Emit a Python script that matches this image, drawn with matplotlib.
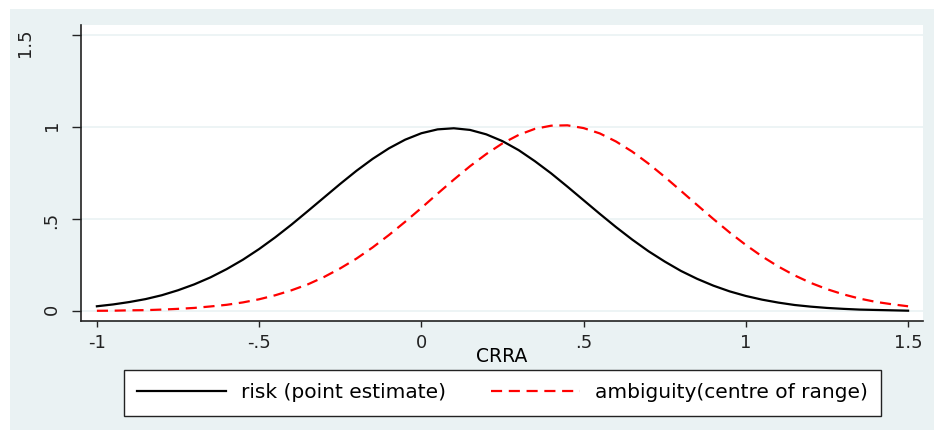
import matplotlib
matplotlib.use('Agg')
import matplotlib.pyplot as plt
import matplotlib.transforms as mtransforms
from matplotlib.patches import Rectangle

# CRRA grid and the two densities read at 0.05 steps
crra = [-1.00, -0.95, -0.90, -0.85, -0.80, -0.75, -0.70, -0.65, -0.60, -0.55,
        -0.50, -0.45, -0.40, -0.35, -0.30, -0.25, -0.20, -0.15, -0.10, -0.05,
        0.00, 0.05, 0.10, 0.15, 0.20, 0.25, 0.30, 0.35, 0.40, 0.45,
        0.50, 0.55, 0.60, 0.65, 0.70, 0.75, 0.80, 0.85, 0.90, 0.95,
        1.00, 1.05, 1.10, 1.15, 1.20, 1.25, 1.30, 1.35, 1.40, 1.45, 1.50]

risk = [0.026, 0.036, 0.049, 0.065, 0.086, 0.113, 0.145, 0.183, 0.228, 0.279,
        0.337, 0.401, 0.470, 0.543, 0.617, 0.691, 0.762, 0.827, 0.884, 0.931,
        0.966, 0.987, 0.993, 0.984, 0.960, 0.923, 0.874, 0.814, 0.748, 0.676,
        0.602, 0.528, 0.456, 0.388, 0.325, 0.269, 0.218, 0.175, 0.138, 0.107,
        0.082, 0.062, 0.046, 0.033, 0.024, 0.017, 0.012, 0.008, 0.006, 0.004, 0.002]

ambiguity = [0.0015, 0.002, 0.004, 0.005, 0.008, 0.012, 0.017, 0.025, 0.034, 0.047,
             0.064, 0.086, 0.113, 0.145, 0.185, 0.232, 0.285, 0.346, 0.413, 0.485,
             0.560, 0.638, 0.714, 0.787, 0.853, 0.911, 0.957, 0.990, 1.007, 1.009,
             0.994, 0.965, 0.921, 0.866, 0.801, 0.729, 0.653, 0.576, 0.500, 0.427,
             0.359, 0.297, 0.242, 0.194, 0.153, 0.119, 0.091, 0.068, 0.050, 0.037, 0.026]

xticks = [-1, -0.5, 0, 0.5, 1, 1.5]
xticklabels = ['-1', '-.5', '0', '.5', '1', '1.5']
yticks = [0, 0.5, 1, 1.5]
yticklabels = ['0', '.5', '1', '1.5']

bg = '#EAF2F3'
plt.rcParams['font.family'] = ['DejaVu Sans']

W, H = 934, 430
fig = plt.figure(figsize=(W / 100, H / 100), dpi=100, facecolor='white')
fig.add_artist(Rectangle((10 / W, 0), 1 - 10 / W, (H - 9) / H,
                         transform=fig.transFigure, facecolor=bg,
                         edgecolor='none', zorder=-10))

ax = fig.add_axes([81 / W, (H - 321) / H, 842 / W, 296 / H])
ax.set_facecolor('white')

ax.plot(crra, risk, color='black', lw=1.6, label='risk (point estimate)', zorder=3)
ax.plot(crra, ambiguity, color='#FF0000', lw=1.6, dashes=(5, 3),
        label='ambiguity(centre of range)', zorder=3)

ax.set_xlim(-1.049, 1.546)
ax.set_ylim(-0.054, 1.554)

ax.set_xticks(xticks)
ax.set_xticklabels(xticklabels, fontsize=13)
ax.set_yticks(yticks)
ax.set_yticklabels(yticklabels, fontsize=13)
ax.tick_params(axis='y', labelrotation=90, length=6.7, width=1, pad=8, colors='#222222')
ax.tick_params(axis='x', length=4.5, width=1, pad=5, colors='#222222')

ax.grid(axis='y', color=bg, lw=1.2, zorder=0)
ax.set_axisbelow(True)

for side in ['top', 'right']:
    ax.spines[side].set_visible(False)
for side in ['left', 'bottom']:
    ax.spines[side].set_color('#222222')
    ax.spines[side].set_linewidth(1.2)

ax.set_xlabel('CRRA', fontsize=13.5, labelpad=-4)

# Stata pushes the widest y label further out
lab = ax.get_yticklabels()[-1]
lab.set_transform(lab.get_transform() +
                  mtransforms.ScaledTranslation(-0.27, 0, fig.dpi_scale_trans))

leg = fig.legend(loc='center', ncol=2, mode='expand',
                 bbox_to_anchor=(124 / W, (H - 416) / H, 757 / W, 46 / H),
                 borderaxespad=0, fontsize=14.5, handlelength=4.4,
                 handletextpad=0.75, borderpad=0.65, fancybox=False,
                 frameon=True, framealpha=1)
leg.get_frame().set_edgecolor('#222222')
leg.get_frame().set_linewidth(1)

fig.savefig('out.png', dpi=100, facecolor='white')
